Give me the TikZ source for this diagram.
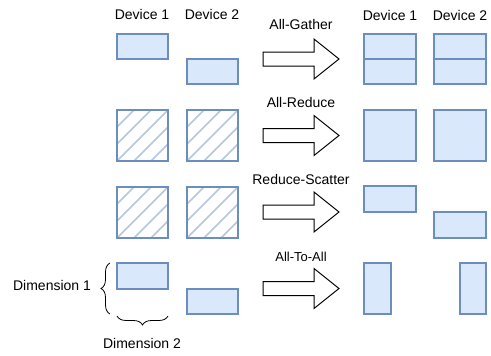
\documentclass[tikz,border=0pt]{standalone}
\usepackage{fontspec}
\setmainfont{Liberation Sans}
\usetikzlibrary{decorations.pathreplacing}
\definecolor{boxfill}{HTML}{DAE8FC}
\definecolor{boxline}{HTML}{6C8EBF}

\begin{document}
\begin{tikzpicture}[x=1pt,y=-1pt,line join=miter]
	\tikzstyle{lbl}=[font=\fontsize{14}{16}\selectfont,inner sep=0pt];
	\tikzstyle{blk}=[draw=boxline,fill=boxfill,line width=1.1pt];
	\tikzstyle{hatchbox}=[draw=boxline,line width=1.1pt];
	\tikzstyle{hatchline}=[draw=boxline!50,line width=1.6pt];
	\tikzstyle{bigarrow}=[draw=black,fill=white,line width=1pt];
	\tikzstyle{curly}=[decorate,decoration={brace,amplitude=9pt},line width=0.8pt];

	\useasboundingbox (0,0) rectangle (491,356);

	% column heads
	\node[lbl] (headL1) at (142,14) {Device 1};
	\node[lbl] (headL2) at (212,14) {Device 2};
	\node[lbl] (headR1) at (390,15) {Device 1};
	\node[lbl] (headR2) at (460,15) {Device 2};

	% operation names
	\node[lbl] (opgather)  at (301,24)  {All-Gather};
	\node[lbl] (opreduce)  at (301,102) {All-Reduce};
	\node[lbl] (opscatter) at (301,179) {Reduce-Scatter};
	\node[lbl,font=\fontsize{13}{15}\selectfont] (opalltoall) at (301,257) {All-To-All};

	% input side
	\draw[blk] (117,34)  rectangle (168,59);
	\draw[blk] (187,59)  rectangle (238,84);
	\foreach \x/\y in {117/110,187/110,117/187,187/187} {
		\begin{scope}
			\clip (\x,\y) rectangle +(51,51);
			\foreach \k in {0,17,...,102}
				\draw[hatchline] (\x+\k-51,\y+51) -- +(51,-51);
		\end{scope}
		\draw[hatchbox] (\x,\y) rectangle +(51,51);
	}
	\draw[blk] (117,263) rectangle (168,289);
	\draw[blk] (187,289) rectangle (238,314);

	% block arrows
	\foreach \c in {59,135.5,212,288.5}
		\draw[bigarrow] (263,\c-7) -- (314,\c-7) -- (314,\c-20) -- (339,\c)
			-- (314,\c+20) -- (314,\c+7) -- (263,\c+7) -- cycle;

	% output side
	\draw[blk] (364,34)  rectangle (416,84);
	\draw[boxline,line width=1.1pt] (364,59) -- (416,59);
	\draw[blk] (434,34)  rectangle (486,84);
	\draw[boxline,line width=1.1pt] (434,59) -- (486,59);
	\draw[blk] (364,110) rectangle (416,161);
	\draw[blk] (434,110) rectangle (486,161);
	\draw[blk] (364,186) rectangle (416,212);
	\draw[blk] (434,212) rectangle (486,238);
	\draw[blk] (364,263) rectangle (391,314);
	\draw[blk] (460,263) rectangle (486,314);

	% dimensions
	\draw[curly] (110,314) -- (110,263);
	\node[lbl] (dimone) at (52,285) {Dimension 1};
	\draw[curly,decoration={mirror}] (117,316) -- (168,316);
	\node[lbl] (dimtwo) at (142,343) {Dimension 2};
\end{tikzpicture}
\end{document}
